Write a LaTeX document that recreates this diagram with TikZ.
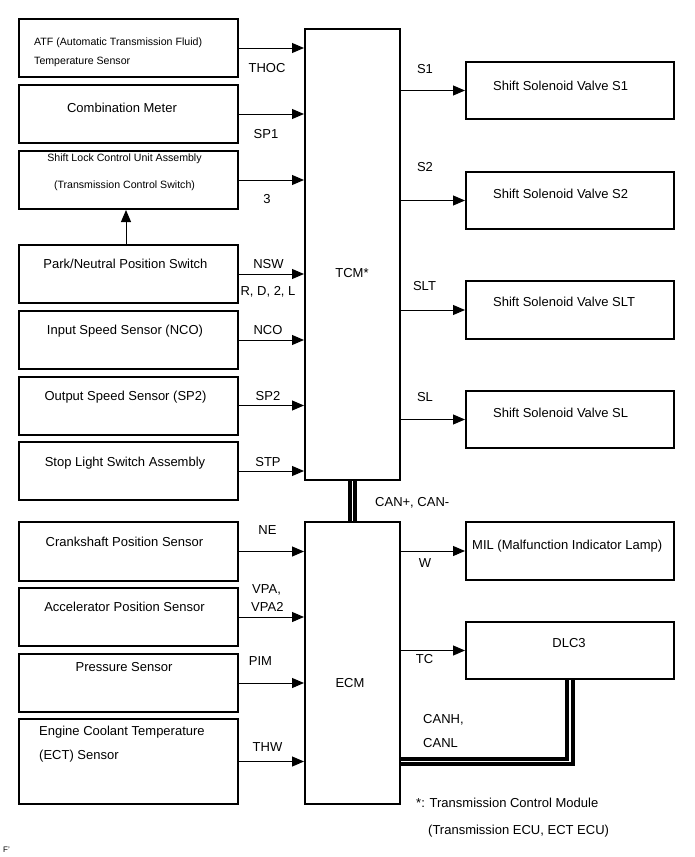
\documentclass[tikz,border=0pt]{standalone}
\usepackage{fontspec}
\setmainfont{Liberation Sans}
\usetikzlibrary{arrows.meta}
\begin{document}
\begin{tikzpicture}[x=1pt,y=-1pt,
  box/.style={draw=black,line width=2pt,rectangle,inner sep=0pt,minimum width=219pt},
  rbox/.style={draw=black,line width=2pt,rectangle,inner sep=0pt,minimum width=208pt},
  ecu/.style={draw=black,line width=2pt,rectangle,inner sep=0pt,minimum width=95pt},
  txt/.style={inner sep=0pt,font=\fontsize{13}{15}\selectfont,anchor=base},
  txtl/.style={txt,anchor=base west},
  small/.style={inner sep=0pt,font=\fontsize{10.6}{12}\selectfont,anchor=base},
  smalll/.style={small,anchor=base west},
  arr/.style={draw=black,line width=1pt,-{Triangle[length=12pt,width=10pt]}},
  bus/.style={draw=black,line width=4pt,double=white,double distance=1.2pt,line join=miter}
]
\useasboundingbox (0,0) rectangle (695,857);

% central ECUs
\node[ecu,minimum height=451pt] (tcm) at (352.5,254.5) {};
\node[ecu,minimum height=282pt] (ecm) at (352.5,663) {};
\node[txt] (tcmt) at (352,277.7) {TCM*};
\node[txt] (ecmt) at (350,687.7) {ECM};

% left boxes
\node[box,minimum height=58pt] (atf) at (128.5,48) {};
\node[box,minimum height=58pt] (comb) at (128.5,114) {};
\node[box,minimum height=58pt] (slock) at (128.5,180) {};
\node[box,minimum height=58pt] (park) at (128.5,274) {};
\node[box,minimum height=58pt] (inp) at (128.5,340) {};
\node[box,minimum height=58pt] (outp) at (128.5,405.5) {};
\node[box,minimum height=58pt] (stop) at (128.5,471) {};
\node[box,minimum height=59pt] (crank) at (128.5,551.5) {};
\node[box,minimum height=58pt] (accel) at (128.5,617) {};
\node[box,minimum height=58pt] (press) at (128.5,683) {};
\node[box,minimum height=85pt] (ect) at (128.5,761.5) {};

% left box texts
\node[smalll] (atft1) at (34,45.8) {ATF (Automatic Transmission Fluid)};
\node[smalll] (atft2) at (34,64.8) {Temperature Sensor};
\node[txt] (combt) at (122,112.7) {Combination Meter};
\node[small] (slockt1) at (124.5,161.8) {Shift Lock Control Unit Assembly};
\node[small] (slockt2) at (124.5,188.8) {(Transmission Control Switch)};
\node[txt] (parkt) at (125.5,268.7) {Park/Neutral Position Switch};
\node[txt] (inpt) at (125,334.7) {Input Speed Sensor (NCO)};
\node[txt] (outpt) at (125.5,400.7) {Output Speed Sensor (SP2)};
\node[txt] (stopt) at (125,466.7) {Stop Light Switch Assembly};
\node[txt] (crankt) at (124.5,546.7) {Crankshaft Position Sensor};
\node[txt] (accelt) at (124.5,611.7) {Accelerator Position Sensor};
\node[txt] (presst) at (124,671.7) {Pressure Sensor};
\node[txtl] (ectt1) at (39,735.7) {Engine Coolant Temperature};
\node[txtl] (ectt2) at (39,759.7) {(ECT) Sensor};

% right boxes
\node[rbox,minimum height=57pt] (s1) at (570,90.5) {};
\node[rbox,minimum height=57pt] (s2) at (570,200.5) {};
\node[rbox,minimum height=58pt] (slt) at (570,310) {};
\node[rbox,minimum height=57pt] (sl) at (570,419.5) {};
\node[rbox,minimum height=58pt] (mil) at (570,551) {};
\node[rbox,minimum height=57pt] (dlc) at (570,650.5) {};

\node[txtl] (s1t) at (493,90.7) {Shift Solenoid Valve S1};
\node[txtl] (s2t) at (493,198.7) {Shift Solenoid Valve S2};
\node[txtl] (sltt) at (493,306.7) {Shift Solenoid Valve SLT};
\node[txtl] (slt2) at (493,417.7) {Shift Solenoid Valve SL};
\node[txtl] (milt) at (472,549.7) {MIL (Malfunction Indicator Lamp)};
\node[txt] (dlct) at (569,647.7) {DLC3};

% input arrows
\draw[arr] (atf.east) -- (atf.east -| tcm.west);
\draw[arr] (comb.east) -- (comb.east -| tcm.west);
\draw[arr] (slock.east) -- (slock.east -| tcm.west);
\draw[arr] (park.east) -- (park.east -| tcm.west);
\draw[arr] (inp.east) -- (inp.east -| tcm.west);
\draw[arr] (outp.east) -- (outp.east -| tcm.west);
\draw[arr] (stop.east) -- (stop.east -| tcm.west);
\draw[arr] (crank.east) -- (crank.east -| ecm.west);
\draw[arr] (accel.east) -- (accel.east -| ecm.west);
\draw[arr] (press.east) -- (press.east -| ecm.west);
\draw[arr] (ect.east) -- (ect.east -| ecm.west);
\draw[arr] ([xshift=-2.5pt]park.north) -- ([xshift=-2.5pt]slock.south);

% output arrows
\draw[arr] (s1.west -| tcm.east) -- (s1.west);
\draw[arr] (s2.west -| tcm.east) -- (s2.west);
\draw[arr] (slt.west -| tcm.east) -- (slt.west);
\draw[arr] (sl.west -| tcm.east) -- (sl.west);
\draw[arr] (mil.west -| ecm.east) -- (mil.west);
\draw[arr] (dlc.west -| ecm.east) -- (dlc.west);

% buses
\draw[bus] (tcm.south) -- (ecm.north);
\draw[bus] (dlc.south) |- (ect.east -| ecm.east);

% signal labels
\node[txt] (lthoc) at (267,72.7) {THOC};
\node[txt] (lsp1) at (266,138.7) {SP1};
\node[txt] (l3) at (267,203.7) {3};
\node[txt] (lnsw) at (268.5,268.7) {NSW};
\node[txt] (lrd2l) at (268,295.7) {R, D, 2, L};
\node[txt] (lnco) at (268,334.7) {NCO};
\node[txt] (lsp2) at (268,400.7) {SP2};
\node[txt] (lstp) at (268,466.7) {STP};
\node[txt] (lne) at (267.5,534.7) {NE};
\node[txtl] (lvpa) at (252,593.7) {VPA,};
\node[txtl] (lvpa2) at (251,611.7) {VPA2};
\node[txt] (lpim) at (260.5,665.7) {PIM};
\node[txt] (lthw) at (267.5,751.7) {THW};
\node[txt] (ls1) at (425,73.7) {S1};
\node[txt] (ls2) at (425,171.7) {S2};
\node[txt] (lslt) at (424.5,290.7) {SLT};
\node[txt] (lsl) at (425,401.7) {SL};
\node[txt] (lw) at (425,567.7) {W};
\node[txt] (ltc) at (424.5,663.7) {TC};
\node[txtl] (lcan) at (375,506.7) {CAN+, CAN-};
\node[txtl] (lcanh) at (423,723.7) {CANH,};
\node[txtl] (lcanl) at (423,747.7) {CANL};

% footnote
\node[txtl] (fn1) at (416,807.7) {*: Transmission Control Module};
\node[txtl] (fn2) at (428,834.7) {(Transmission ECU, ECT ECU)};
\node[inner sep=0pt,font=\fontsize{8}{9}\selectfont,anchor=base west] (fmark) at (3,852) {F'};
\end{tikzpicture}
\end{document}
